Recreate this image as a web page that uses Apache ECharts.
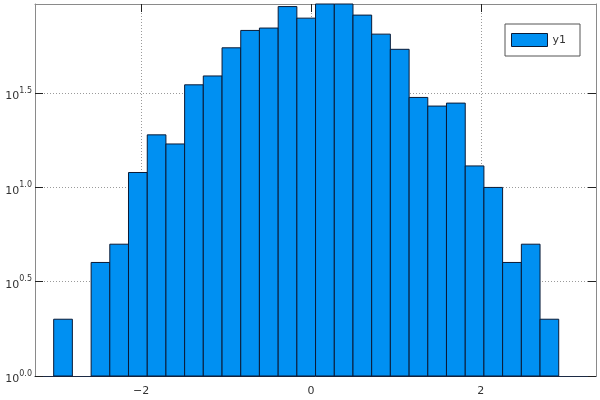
<!DOCTYPE html>
<html>
<head>
<meta charset="utf-8">
<script src="https://cdn.jsdelivr.net/npm/echarts@6/dist/echarts.min.js"></script>
<style>html,body{margin:0;padding:0;background:#fff}#c{width:600px;height:400px}</style>
</head>
<body>
<div id="c"></div>
<script>
// Histogram bin edges (x) and counts per bin
const binEdges = [-3.030, -2.810, -2.589, -2.369, -2.149, -1.928, -1.708, -1.488, -1.268, -1.047,
  -0.827, -0.607, -0.386, -0.166, 0.054, 0.275, 0.495, 0.715, 0.935, 1.156,
  1.376, 1.596, 1.817, 2.037, 2.257, 2.478, 2.698, 2.918];
const counts = [2, 0, 4, 5, 12, 19, 17, 35, 39, 55, 68, 70, 91, 79, 96, 95, 82, 65, 54, 30, 27, 28, 13, 10, 4, 5, 2];
const seriesName = 'y1';
const xTicks = [-2, 0, 2];
const yTicks = [1, 3.16228, 10, 31.6228];

const fill = '#0090f2';
const edge = '#0a1a36';

const data = counts.map((c, i) => [binEdges[i], binEdges[i + 1], c]);

const chart = echarts.init(document.getElementById('c'), null, {renderer: 'canvas'});
const labelColor = '#333';
const frame = '#8a8a8a';
const split = {show: true, lineStyle: {color: '#9a9a9a', type: [1, 2], width: 1}};

chart.setOption({
  animation: false,
  backgroundColor: '#fff',
  grid: {left: 35, right: 4, top: 4, bottom: 24, containLabel: false},
  legend: {
    show: true, left: 505, top: 24,
    padding: [9, 14, 9, 6],
    borderColor: '#555', borderWidth: 1,
    itemWidth: 36, itemHeight: 13, itemGap: 5,
    textStyle: {fontSize: 11, color: '#333', fontFamily: 'DejaVu Sans'},
    data: [{name: seriesName, icon: 'rect', itemStyle: {color: fill, borderColor: edge, borderWidth: 1}}]
  },
  xAxis: [{
    type: 'value', min: -3.25, max: 3.357, position: 'bottom',
    axisLine: {show: true, onZero: false, lineStyle: {color: '#1c2a44'}},
    axisTick: {show: true, inside: true, length: 8, customValues: xTicks, lineStyle: {color: '#222'}},
    axisLabel: {show: true, customValues: xTicks, color: labelColor, fontSize: 11, margin: 10,
      fontFamily: 'DejaVu Sans',
      formatter: v => (v < 0 ? '\u2212' + Math.abs(v) : String(v))},
    splitLine: split
  }, {
    type: 'value', min: -3.25, max: 3.357, position: 'top',
    axisLine: {show: true, onZero: false, lineStyle: {color: frame}},
    axisTick: {show: true, inside: true, length: 8, customValues: xTicks, lineStyle: {color: '#222'}},
    axisLabel: {show: false},
    splitLine: {show: false}
  }],
  yAxis: [{
    type: 'log', logBase: 10, min: 1, max: 93.9, position: 'left',
    axisLine: {show: true, onZero: false, lineStyle: {color: frame}},
    axisTick: {show: true, inside: true, length: 8, customValues: yTicks, lineStyle: {color: '#222'}},
    axisLabel: {show: true, customValues: yTicks, margin: 3,
      formatter: v => '{a|10}{b|' + Math.log10(v).toFixed(1) + '}',
      rich: {
        a: {fontSize: 11, color: labelColor, fontFamily: 'DejaVu Sans', padding: [7, 0, 0, 0]},
        b: {fontSize: 8, color: labelColor, fontFamily: 'DejaVu Sans', padding: [0, 0, 5, 0]}
      }},
    splitLine: split
  }, {
    type: 'log', logBase: 10, min: 1, max: 93.9, position: 'right',
    axisLine: {show: true, onZero: false, lineStyle: {color: frame}},
    axisTick: {show: true, inside: true, length: 8, customValues: yTicks, lineStyle: {color: '#222'}},
    axisLabel: {show: false},
    splitLine: {show: false}
  }],
  series: [{
    name: seriesName,
    type: 'custom',
    xAxisIndex: 0, yAxisIndex: 0,
    encode: {x: [0, 1], y: 2},
    data: data,
    renderItem: function (params, api) {
      const c = api.value(2);
      if (!(c > 0)) return null;
      const p0 = api.coord([api.value(0), 1]);
      const p1 = api.coord([api.value(1), c]);
      const rect = echarts.graphic.clipRectByRect(
        {x: p0[0], y: p1[1], width: p1[0] - p0[0], height: p0[1] - p1[1]},
        {x: params.coordSys.x, y: params.coordSys.y, width: params.coordSys.width, height: params.coordSys.height});
      if (!rect) return null;
      return {type: 'rect', shape: rect, style: {fill: fill, stroke: edge, lineWidth: 1}};
    },
    itemStyle: {color: fill, borderColor: edge, borderWidth: 1}
  }]
});
</script>
</body>
</html>
